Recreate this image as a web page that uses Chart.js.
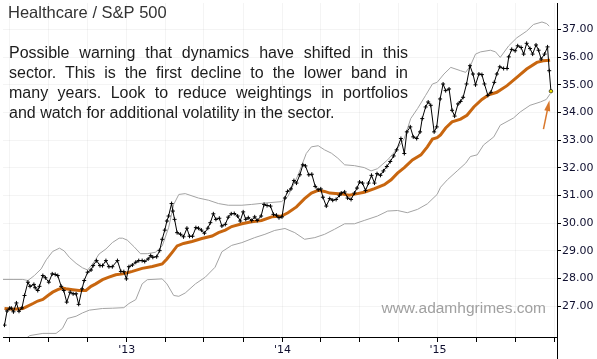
<!DOCTYPE html>
<html>
<head>
<meta charset="utf-8">
<script src="https://cdn.jsdelivr.net/npm/chart.js@4.4.1/dist/chart.umd.min.js"></script>
<style>
html,body{margin:0;padding:0;background:#fff;}
canvas{display:block;}
</style>
</head>
<body>
<canvas id="c" width="597" height="359"></canvas>
<script>
// x values are days since 2013-01-01
const priceDay = [-287,-281,-275,-271,-266,-259,-253,-246,-240,-232,-227,-218,-215,-209,-205,-197,-191,-183,-175,-168,-162,-154,-148,-141,-133,-126,-119,-113,-105,-100,-92,-84,-79,-71,-63,-57,-49,-42,-34,-22,-14,
-7,-1,5,13,21,28,36,42,50,56,61,70,77,83,89,94,98,105,108,112,118,126,133,141,147,154,162,168,175,182,190,196,203,209,217,223,231,238,245,
252,260,266,273,279,285,293,300,306,315,322,329,337,344,351,357,364,371,377,385,392,398,406,413,419,427,434,442,449,455,460,468,476,483,491,499,
503,511,518,526,534,540,546,553,560,567,574,581,587,595,602,610,618,626,633,643,651,657,665,672,680,688,693,701,707,713,721,727,735,742,748,756,
763,769,777,783,789,797,805,812,818,826,833,839,847,854,862,868,875,884,892,896,903,911,917,925,931,938,946,952,960,966,972,980,987,991,995];
const priceVal = [26.32,26.83,26.93,26.93,26.80,27.12,26.82,26.94,27.39,27.87,27.72,27.79,27.67,27.57,27.72,28.11,28.03,27.87,28.17,28.15,28.11,27.72,27.57,27.15,27.51,27.45,27.45,27.07,27.63,27.93,28.23,28.31,28.47,28.65,28.47,28.47,28.65,28.43,28.43,28.65,28.26,
28.25,27.99,28.43,28.49,28.59,28.65,28.65,28.62,28.71,28.83,28.77,28.79,29.01,29.42,29.75,30.08,30.26,30.71,30.44,30.14,29.66,29.60,29.51,29.82,29.53,29.53,29.84,29.82,29.75,29.64,29.82,30.02,30.34,30.14,30.18,29.90,29.96,30.22,30.34,
30.35,30.26,30.08,30.41,30.14,30.20,30.10,30.23,30.10,30.26,30.68,30.64,30.62,30.32,30.29,30.20,30.23,30.91,31.15,31.24,31.54,31.45,31.75,32.11,32.07,31.75,31.77,31.33,31.21,31.24,30.94,30.62,30.89,30.83,30.86,31.01,
31.09,31.13,30.91,30.86,31.09,31.27,31.49,31.45,31.18,31.45,31.73,31.45,31.79,31.73,31.89,32.05,32.23,32.43,32.65,33.06,32.52,33.30,33.48,33.12,33.06,33.30,33.78,34.20,34.38,34.26,33.30,33.48,34.49,35.03,34.79,34.85,
34.08,33.87,34.31,34.40,34.55,35.03,35.69,35.39,35.00,35.39,35.37,35.03,34.62,34.73,35.09,35.39,35.65,35.59,35.59,36.01,36.28,36.23,36.41,36.35,36.11,36.50,36.31,36.11,36.44,36.25,35.93,36.11,36.37,35.51,34.77];

const maDay = [-287,-267,-244,-236,-220,-209,-197,-185,-174,-162,-152,-143,-127,-112,-96,-84,-73,-57,-42,-26,-10,1,13,36,60,83,94,106,118,133,153,176,200,215,231,246,270,293,316,340,363,378,398,417,433,449,464,476,503,522,538,557,581,604,620,635,651,670,690,705,717,728,736,748,763,783,798,814,833,849,868,892,915,938,962,977,993];
const maVal = [26.92,26.89,26.92,26.98,27.10,27.19,27.25,27.39,27.51,27.60,27.66,27.63,27.60,27.57,27.57,27.72,27.81,27.96,28.05,28.14,28.17,28.21,28.26,28.37,28.44,28.53,28.71,28.94,29.18,29.27,29.34,29.45,29.54,29.66,29.75,29.88,29.98,30.05,30.10,30.23,30.26,30.38,30.59,30.89,31.09,31.19,31.15,31.09,31.06,31.01,31.06,31.12,31.25,31.39,31.57,31.81,32.01,32.29,32.47,32.76,33.04,33.09,33.19,33.44,33.66,33.76,33.90,34.20,34.47,34.64,34.73,34.97,35.27,35.57,35.81,35.87,35.89];

const upperDay = [-291,-267,-244,-232,-217,-201,-189,-174,-158,-147,-135,-119,-104,-92,-80,-65,-49,-34,-18,-10,1,17,32,48,67,83,98,110,122,137,168,192,215,238,270,293,324,363,378,402,421,433,449,464,480,495,511,534,557,573,588,612,635,651,666,682,701,717,728,744,760,783,795,806,818,830,853,865,876,896,915,938,954,974,985,991];
const upperVal = [27.97,27.97,27.97,27.93,28.11,28.35,28.68,28.98,29.10,29.00,28.77,28.55,28.39,28.31,28.53,28.89,29.07,29.30,29.46,29.46,29.39,29.15,28.90,28.90,28.95,29.18,29.84,30.68,31.04,31.07,30.91,30.83,30.71,30.65,30.65,30.68,30.73,30.78,30.97,31.75,32.52,32.76,32.80,32.65,32.53,32.35,32.11,32.08,32.01,31.89,31.97,32.29,32.70,33.06,33.78,34.14,34.62,35.03,35.09,35.39,35.63,35.51,35.45,35.69,36.11,36.19,36.25,36.19,35.99,36.41,36.70,36.94,37.18,37.27,37.21,37.12];

const lowerDay = [-256,-228,-197,-166,-151,-139,-119,-104,-88,-57,-34,-7,5,21,36,48,83,94,110,122,137,161,184,207,223,246,270,300,324,347,371,394,417,441,464,487,511,534,557,588,612,635,658,682,705,728,736,752,775,795,806,822,837,861,876,907,923,946,970,984,993];
const lowerVal = [25.60,25.94,26.02,26.02,26.20,26.56,26.64,26.76,26.86,26.92,26.93,26.95,27.10,27.24,27.81,27.96,27.99,27.81,27.39,27.36,27.48,27.81,28.05,28.41,28.97,29.20,29.30,29.48,29.60,29.74,29.81,29.66,29.42,29.48,29.60,29.78,29.98,29.98,30.10,30.26,30.44,30.46,30.38,30.50,30.70,31.04,31.30,31.57,31.89,32.17,32.41,32.47,32.83,33.12,33.54,33.80,34.02,34.26,34.38,34.47,34.67];

const xTickDays = [-275,-184,-92,0,90,181,273,365,455,546,638,730,820,911,1003];
const xTickLabels = ['','','',"'13",'','','',"'14",'','','',"'15",'','',''];
const yTicks = [27,28,29,30,31,32,33,34,35,36,37];

const titleText = 'Healthcare / S&P 500';
const noteLines = [
  'Possible warning that dynamics have shifted in this',
  'sector. This is the first decline to the lower band in',
  'many years. Look to reduce weightings in portfolios',
  'and watch for additional volatility in the sector.'
];
const watermark = 'www.adamhgrimes.com';

function pts(days, vals){ return days.map((d,i)=>({x:d, y:vals[i]})); }

const annot = {
  id:'annot',
  afterDraw(chart){
    const ctx = chart.ctx;
    const area = chart.chartArea;
    ctx.save();
    // extend right axis line to the bottom of the canvas
    ctx.strokeStyle = '#000'; ctx.lineWidth = 1;
    ctx.beginPath();
    ctx.moveTo(Math.round(area.right)+0.5, area.bottom);
    ctx.lineTo(Math.round(area.right)+0.5, chart.height);
    ctx.stroke();

    ctx.fillStyle = '#333';
    ctx.font = '16.5px "Liberation Sans", Arial, sans-serif';
    ctx.textBaseline = 'alphabetic';
    ctx.fillText(titleText, 8, 18);

    ctx.fillStyle = '#1c1c1c';
    ctx.font = '16px "Liberation Sans", Arial, sans-serif';
    const x0 = 9, x1 = 408;
    noteLines.forEach((line, li) => {
      const y = 58 + li*20;
      if (li === noteLines.length-1) { ctx.fillText(line, x0, y); return; }
      const words = line.split(' ');
      const w = words.map(s => ctx.measureText(s).width);
      const tot = w.reduce((a,b)=>a+b,0);
      const gap = (x1 - x0 - tot)/(words.length-1);
      let x = x0;
      words.forEach((s,i)=>{ ctx.fillText(s, x, y); x += w[i] + gap; });
    });

    ctx.fillStyle = '#a0a0a0';
    ctx.font = '15.5px "Liberation Sans", Arial, sans-serif';
    ctx.textAlign = 'right';
    ctx.fillText(watermark, 546, 313);

    // arrow pointing to last price
    const xs = chart.scales.x, ys = chart.scales.y;
    const n = priceDay.length-1;
    const px = xs.getPixelForValue(priceDay[n]);
    const py = ys.getPixelForValue(priceVal[n]);
    const tipX = px - 1.5, tipY = py + 9;
    const tailX = px - 7.5, tailY = py + 38;
    ctx.strokeStyle = '#d9782c'; ctx.fillStyle = '#d9782c'; ctx.lineWidth = 1.5;
    ctx.beginPath(); ctx.moveTo(tailX, tailY); ctx.lineTo(tipX + (tailX-tipX)*0.3, tipY + (tailY-tipY)*0.3); ctx.stroke();
    const ang = Math.atan2(tipY - tailY, tipX - tailX);
    const L = 11, W = 3;
    ctx.beginPath();
    ctx.moveTo(tipX, tipY);
    ctx.lineTo(tipX - L*Math.cos(ang) + W*Math.sin(ang), tipY - L*Math.sin(ang) - W*Math.cos(ang));
    ctx.lineTo(tipX - L*Math.cos(ang) - W*Math.sin(ang), tipY - L*Math.sin(ang) + W*Math.cos(ang));
    ctx.closePath(); ctx.fill();
    ctx.restore();
  }
};

const lastIdx = priceDay.length-1;
new Chart(document.getElementById('c'), {
  type:'line',
  data:{datasets:[
    {label:'Price', data:pts(priceDay, priceVal), borderColor:'#000', borderWidth:1, tension:0,
     pointStyle:(c)=> c.dataIndex===lastIdx ? 'circle' : 'cross',
     pointRadius:(c)=> c.dataIndex===lastIdx ? 1.8 : 2,
     pointBorderWidth:(c)=> c.dataIndex===lastIdx ? 0.6 : 1,
     pointBorderColor:'#000',
     pointBackgroundColor:(c)=> c.dataIndex===lastIdx ? '#f0e000' : '#000',
     pointHoverRadius:0},
    {label:'MA', data:pts(maDay, maVal), borderColor:'#c8660f', borderWidth:3, pointRadius:0, tension:0},
    {label:'Upper', data:pts(upperDay, upperVal), borderColor:'#a3a3a3', borderWidth:1, pointRadius:0, tension:0},
    {label:'Lower', data:pts(lowerDay, lowerVal), borderColor:'#a3a3a3', borderWidth:1, pointRadius:0, tension:0}
  ]},
  options:{
    responsive:false, animation:false, events:[],
    layout:{padding:0},
    plugins:{legend:{display:false}, tooltip:{enabled:false}},
    scales:{
      x:{type:'linear', min:-290.5, max:1009.2,
        afterBuildTicks:(s)=>{ s.ticks = xTickDays.map(v=>({value:v})); },
        afterFit:(s)=>{ s.height = 22; s.paddingLeft = 0; s.paddingRight = 0; },
        grid:{color:'rgba(0,0,0,0.045)', tickColor:'#000', tickLength:5, drawOnChartArea:true},
        border:{color:'#000', width:1},
        ticks:{autoSkip:false, maxRotation:0, minRotation:0, padding:2, color:'#101030',
          font:{family:'"DejaVu Sans", Verdana, sans-serif', size:11},
          callback:(v)=>{ const i = xTickDays.indexOf(v); return i>=0 ? xTickLabels[i] : ''; }}
      },
      y:{position:'right', min:25.89, max:37.956,
        afterBuildTicks:(s)=>{ s.ticks = yTicks.map(v=>({value:v})); },
        afterFit:(s)=>{ s.width = 40; s.paddingTop = 0; s.paddingBottom = 0; },
        grid:{color:'rgba(0,0,0,0.045)', tickColor:'#000', tickLength:4, drawOnChartArea:true},
        border:{color:'#000', width:1},
        ticks:{padding:1, color:'#101030', font:{family:'"DejaVu Sans", Verdana, sans-serif', size:11},
          callback:(v)=> Number(v).toFixed(2)}
      }
    }
  },
  plugins:[annot]
});
</script>
</body>
</html>
